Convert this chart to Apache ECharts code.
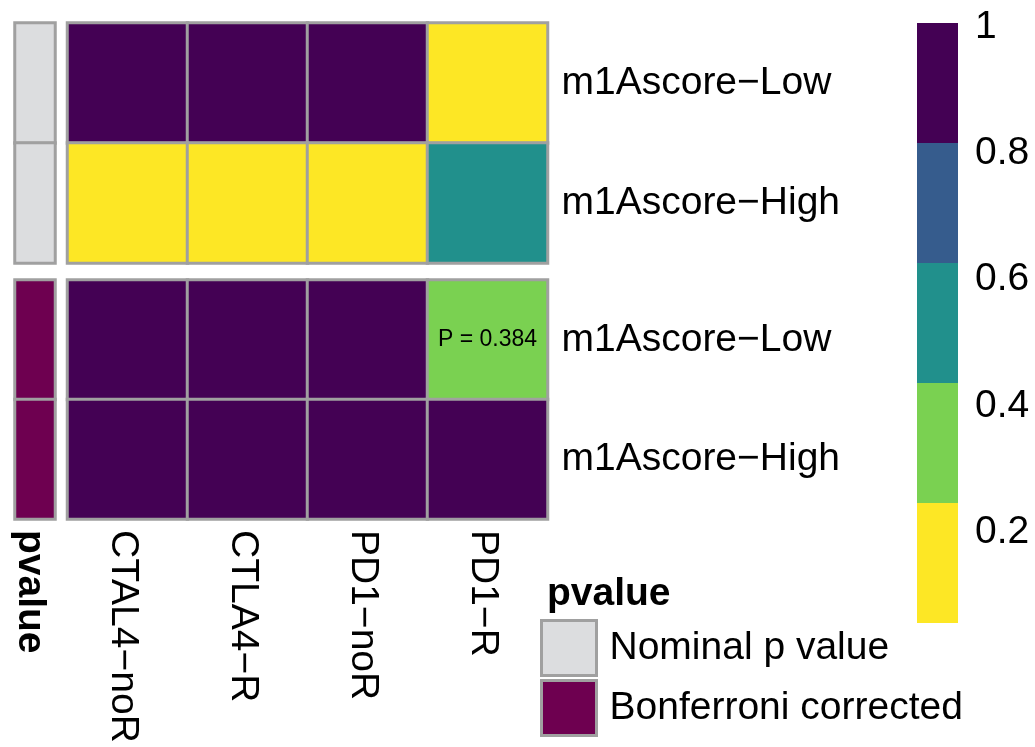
<!DOCTYPE html>
<html>
<head>
<meta charset="utf-8">
<script src="https://cdn.jsdelivr.net/npm/echarts@6/dist/echarts.min.js"></script>
<style>
  html, body { margin: 0; padding: 0; background: #ffffff; }
  #chart { width: 1035px; height: 747px; }
</style>
</head>
<body>
<div id="chart"></div>
<script>
// Therapy-response groups (columns) and score groups (rows)
const columns = ['CTAL4\u2212noR', 'CTLA4\u2212R', 'PD1\u2212noR', 'PD1\u2212R'];
const rows = ['m1Ascore\u2212Low', 'm1Ascore\u2212High'];

// p values per row, in column order
const nominalLow = [0.93, 0.88, 0.96, 0.096];
const nominalHigh = [0.11, 0.07, 0.16, 0.52];
const bonferroniLow = [1, 1, 1, 0.384];
const bonferroniHigh = [1, 1, 1, 1];

// Row annotation: which kind of p value each block holds
const pvalueTypes = ['Nominal p value', 'Bonferroni corrected'];
const pvalueTypeColors = ['#DCDDDF', '#6E0050'];

// Binned colour scale
const colorBreaks = [0.05, 0.24, 0.43, 0.62, 0.81, 1];
const binColors = ['#FDE725', '#7AD151', '#21908C', '#365C8D', '#440154'];
const colorBarTicks = [0.2, 0.4, 0.6, 0.8, 1];

// Cells in the corrected block below this value get their p value printed
const labelCutoff = 0.5;

const FONT = 'Liberation Sans, Arial, Helvetica, sans-serif';
const BORDER = '#A0A0A0';
const FS = 39;

function cells(rowArrays, withLabels) {
  const out = [];
  rowArrays.forEach(function (vals, r) {
    vals.forEach(function (v, c) {
      const item = { value: [c, r, v] };
      if (withLabels && v < labelCutoff) {
        item.label = { show: true };
      }
      out.push(item);
    });
  });
  return out;
}

const pieces = binColors.map(function (col, i) {
  const p = { color: col };
  if (i > 0) p.gte = colorBreaks[i];
  if (i < binColors.length - 1) p.lt = colorBreaks[i + 1];
  return p;
});

const rowAxisLabel = { show: true, fontSize: FS, color: '#000', fontFamily: FONT, margin: 14 };
const hidden = { show: false };

function catAxis(grid, data, extra) {
  return Object.assign({
    type: 'category', gridIndex: grid, data: data,
    axisLine: hidden, axisTick: hidden, splitLine: hidden, axisLabel: hidden
  }, extra || {});
}

const heatLabel = {
  show: false, color: '#000', fontSize: 23, fontFamily: FONT,
  formatter: function (p) { return 'P = ' + p.value[2]; }
};

const series = [
  {
    name: 'nominal', type: 'heatmap', xAxisIndex: 0, yAxisIndex: 0,
    data: cells([nominalLow, nominalHigh], false),
    itemStyle: { borderColor: BORDER, borderWidth: 3 },
    label: heatLabel, emphasis: { disabled: true }
  },
  {
    name: 'corrected', type: 'heatmap', xAxisIndex: 1, yAxisIndex: 1,
    data: cells([bonferroniLow, bonferroniHigh], true),
    itemStyle: { borderColor: BORDER, borderWidth: 3 },
    label: heatLabel, emphasis: { disabled: true }
  }
];

// Annotation column, one block per p value type
pvalueTypes.forEach(function (name, g) {
  series.push({
    name: name, type: 'heatmap', xAxisIndex: 2 + g, yAxisIndex: 2 + g,
    data: rows.map(function (r, i) { return [0, i, 1]; }),
    itemStyle: { color: pvalueTypeColors[g], borderColor: BORDER, borderWidth: 3 },
    emphasis: { disabled: true }
  });
});

// Colour bar: stacked segments between the breaks
series.push({
  name: 'cbBase', type: 'bar', xAxisIndex: 4, yAxisIndex: 4, stack: 'cb',
  data: [colorBreaks[0]], barWidth: '100%',
  itemStyle: { color: 'rgba(0,0,0,0)' }, silent: true
});
binColors.forEach(function (col, i) {
  series.push({
    name: 'cb' + i, type: 'bar', xAxisIndex: 4, yAxisIndex: 4, stack: 'cb',
    data: [+(colorBreaks[i + 1] - colorBreaks[i]).toFixed(4)], barWidth: '100%',
    itemStyle: { color: col }, silent: true
  });
});

// Column names read downwards; the short line box nudges them a little left
const rotatedLabel = {
  show: true, rotate: -90, fontSize: FS, color: '#000', fontFamily: FONT,
  margin: 11, verticalAlign: 'top', lineHeight: 10
};

const option = {
  animation: false,
  backgroundColor: '#ffffff',
  textStyle: { fontFamily: FONT },
  title: {
    text: 'pvalue', left: 542, top: 570,
    textStyle: { fontSize: FS, fontWeight: 'bold', color: '#000', fontFamily: FONT }
  },
  legend: {
    data: pvalueTypes, orient: 'vertical', left: 540, top: 619, padding: 0,
    itemWidth: 55, itemHeight: 55, itemGap: 2, icon: 'rect',
    itemStyle: { borderColor: BORDER, borderWidth: 3 },
    textStyle: { fontSize: FS, color: '#000', fontFamily: FONT, padding: [0, 0, 0, 8] },
    selectedMode: false
  },
  visualMap: {
    type: 'piecewise', show: false, seriesIndex: [0, 1],
    dimension: 2, pieces: pieces
  },
  grid: [
    { left: 67.5, top: 23, width: 480, height: 240 },
    { left: 67.5, top: 280, width: 480, height: 239 },
    { left: 15, top: 23, width: 40, height: 240 },
    { left: 15, top: 280, width: 40, height: 239 },
    { left: 917, top: 23, width: 41, height: 600 / (1 - colorBreaks[0]) }
  ],
  xAxis: [
    catAxis(0, columns),
    catAxis(1, columns, { axisLabel: rotatedLabel }),
    catAxis(2, ['pvalue']),
    catAxis(3, ['pvalue'], { axisLabel: Object.assign({}, rotatedLabel, { fontWeight: 'bold' }) }),
    catAxis(4, [''])
  ],
  yAxis: [
    catAxis(0, rows, { inverse: true, position: 'right', axisLabel: rowAxisLabel }),
    catAxis(1, rows, { inverse: true, position: 'right', axisLabel: rowAxisLabel }),
    catAxis(2, rows, { inverse: true }),
    catAxis(3, rows, { inverse: true }),
    {
      type: 'value', gridIndex: 4, position: 'right', min: 0, max: 1, interval: 0.2,
      axisLine: hidden, axisTick: hidden, splitLine: hidden,
      axisLabel: {
        show: true, fontSize: FS, color: '#000', fontFamily: FONT, margin: 17,
        verticalAlign: 'top', lineHeight: 8,
        formatter: function (v) {
          const hit = colorBarTicks.find(function (t) { return Math.abs(t - v) < 1e-6; });
          return hit === undefined ? '' : String(hit);
        }
      }
    }
  ],
  series: series
};

const chart = echarts.init(document.getElementById('chart'), null, { renderer: 'canvas' });
chart.setOption(option);
</script>
</body>
</html>
